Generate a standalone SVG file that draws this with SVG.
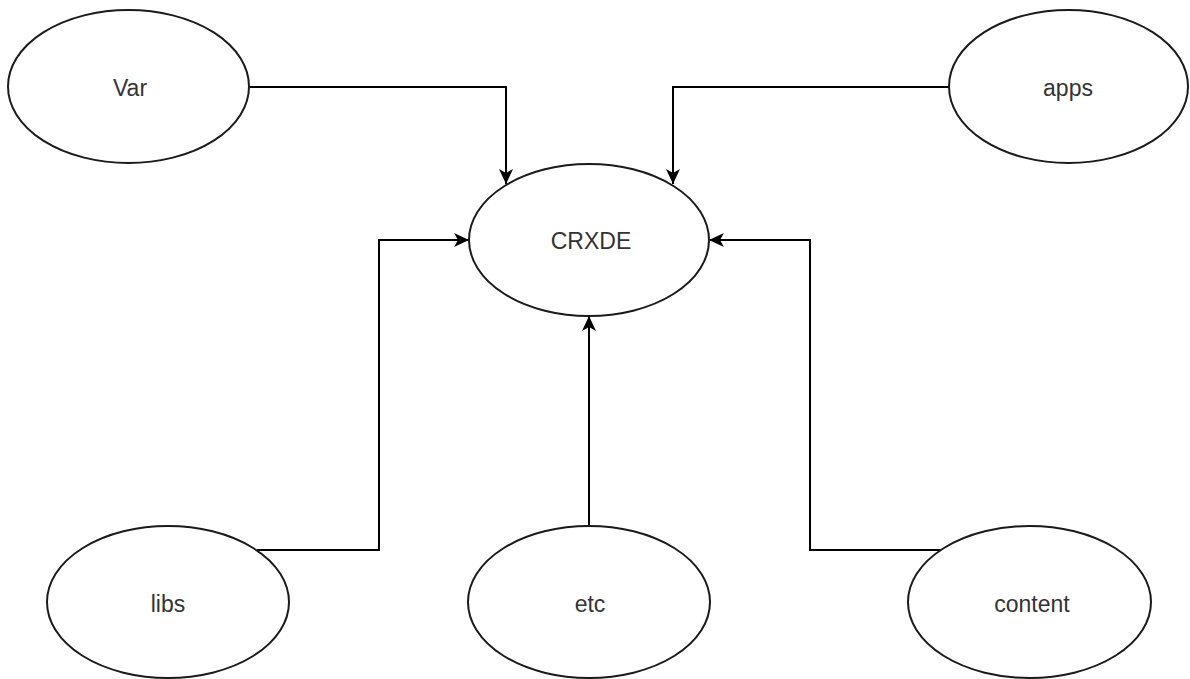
<svg xmlns="http://www.w3.org/2000/svg" width="1190" height="679" viewBox="0 0 1190 679">
  <style>
    .node ellipse { fill: #ffffff; stroke: #1a1a1a; stroke-width: 2; }
    .node text { font-family: "Liberation Sans", Arial, sans-serif; font-size: 23px; fill: #333333; text-anchor: middle; }
    .edge { fill: none; stroke: #000000; stroke-width: 2; }
  </style>
  <defs>
    <marker id="arrow" markerUnits="userSpaceOnUse" markerWidth="16" markerHeight="14" refX="15" refY="7" orient="auto">
      <path d="M0,0 L15,7 L0,14 L4,7 Z" fill="#000000"/>
    </marker>
  </defs>

  <g id="connectors">
    <path class="edge" d="M249,87 H506 V184" marker-end="url(#arrow)"/>
    <path class="edge" d="M949,87 H673 V184" marker-end="url(#arrow)"/>
    <path class="edge" d="M257,550 H379 V240 H469" marker-end="url(#arrow)"/>
    <path class="edge" d="M589,526 V316" marker-end="url(#arrow)"/>
    <path class="edge" d="M943,550 H810 V240 H709" marker-end="url(#arrow)"/>
  </g>

  <g id="node-var" class="node">
    <ellipse cx="128.5" cy="86.5" rx="120.5" ry="76.5"/>
    <text x="130" y="96">Var</text>
  </g>
  <g id="node-apps" class="node">
    <ellipse cx="1068.5" cy="86.5" rx="119.5" ry="76.5"/>
    <text x="1068" y="96">apps</text>
  </g>
  <g id="node-crxde" class="node">
    <ellipse cx="589" cy="240" rx="120" ry="76"/>
    <text x="591" y="249">CRXDE</text>
  </g>
  <g id="node-libs" class="node">
    <ellipse cx="168" cy="602" rx="121" ry="76"/>
    <text x="168" y="612">libs</text>
  </g>
  <g id="node-etc" class="node">
    <ellipse cx="589" cy="602" rx="121" ry="76"/>
    <text x="590" y="612">etc</text>
  </g>
  <g id="node-content" class="node">
    <ellipse cx="1029.5" cy="602" rx="121.5" ry="76"/>
    <text x="1032" y="612">content</text>
  </g>
</svg>
